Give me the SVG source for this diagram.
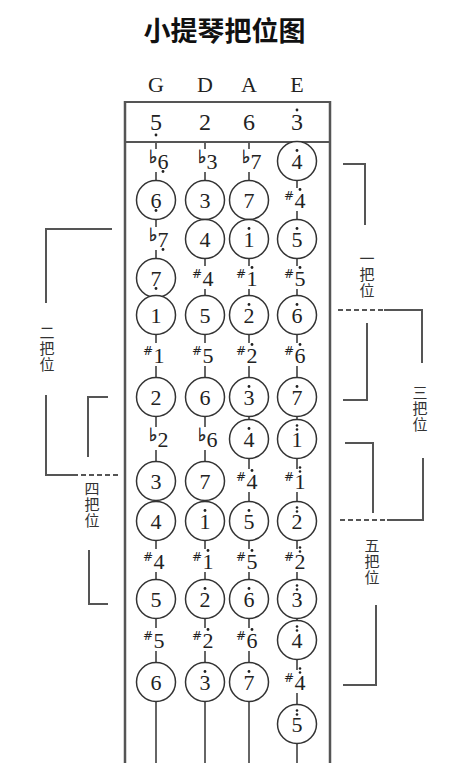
<svg xmlns="http://www.w3.org/2000/svg" width="476" height="780" viewBox="0 0 476 780">
<style>
.c{fill:#fff;stroke:#333;stroke-width:1.5}
.n{font-family:"Liberation Serif",serif;font-size:22px;text-anchor:middle;fill:#222}
.h{font-family:"Liberation Serif",serif;font-size:24px;text-anchor:middle;fill:#222}
.a{font-family:"DejaVu Serif",serif;font-size:18px;text-anchor:end;fill:#222;stroke:#222;stroke-width:0.5}
.s{font-family:"DejaVu Sans",sans-serif;font-size:12px;text-anchor:end;fill:#222}
.d{fill:#222}
.bg{fill:#fff}
.br{fill:none;stroke:#555;stroke-width:2}
.dash{stroke-dasharray:5 3}
.lab{font-family:"Noto Sans CJK SC",sans-serif;font-size:15px;text-anchor:middle;fill:#333;writing-mode:vertical-rl;letter-spacing:1px}
</style>
<rect width="476" height="780" fill="#fff"/>
<text x="224.5" y="41" font-family="'Noto Sans CJK SC',sans-serif" font-size="27" font-weight="bold" text-anchor="middle" fill="#111">小提琴把位图</text>
<g id="stringnames" font-family="'Liberation Serif',serif" font-size="22" text-anchor="middle" fill="#222">
<text x="156" y="92">G</text><text x="205" y="92">D</text><text x="249" y="92">A</text><text x="297" y="92">E</text>
</g>
<g id="frame" stroke="#555" fill="none">
<line x1="125" y1="101" x2="125" y2="763" stroke-width="2.5"/>
<line x1="330" y1="101" x2="330" y2="763" stroke-width="2.5"/>
<line x1="124" y1="102" x2="331" y2="102" stroke-width="2"/>
<line x1="124" y1="142" x2="331" y2="142" stroke-width="2"/>
</g>
<g id="open-strings">
<text class="h" x="156" y="130">5</text><circle class="d" cx="156" cy="135" r="1.4"/>
<text class="h" x="205" y="130">2</text>
<text class="h" x="249" y="130">6</text>
<text class="h" x="297" y="130">3</text><circle class="d" cx="297" cy="110" r="1.4"/>
</g>
<g id="connectors" stroke="#333" stroke-width="1.5">
<line x1="156" y1="143" x2="156" y2="763"/>
<line x1="205" y1="143" x2="205" y2="763"/>
<line x1="249" y1="143" x2="249" y2="763"/>
<line x1="297" y1="143" x2="297" y2="763"/>
</g>
<g id="col-G">
<g id="G0"><rect class="bg" x="151" y="149" width="10" height="23"/><text class="n" x="163" y="168.5">6</text><text class="a" x="157.5" y="163">♭</text><circle class="d" cx="163" cy="171.5" r="1.4"/></g>
<g id="G1"><circle class="c" cx="156" cy="200" r="19.5"/><text class="n" x="156" y="207.5">6</text><circle class="d" cx="156" cy="210.5" r="1.4"/></g>
<g id="G2"><rect class="bg" x="151" y="227" width="10" height="23"/><text class="n" x="163" y="246.5">7</text><text class="a" x="157.5" y="241">♭</text><circle class="d" cx="163" cy="249.5" r="1.4"/></g>
<g id="G3"><circle class="c" cx="156" cy="278" r="19.5"/><text class="n" x="156" y="285.5">7</text><circle class="d" cx="156" cy="288.5" r="1.4"/></g>
<g id="G4"><circle class="c" cx="156" cy="315" r="19.5"/><text class="n" x="156" y="322.5">1</text></g>
<g id="G5"><rect class="bg" x="151" y="343" width="10" height="23"/><text class="n" x="159" y="362.5">1</text><text class="s" x="153" y="355">#</text></g>
<g id="G6"><circle class="c" cx="156" cy="397" r="19.5"/><text class="n" x="156" y="404.5">2</text></g>
<g id="G7"><rect class="bg" x="151" y="427" width="10" height="23"/><text class="n" x="163" y="446.5">2</text><text class="a" x="157.5" y="441">♭</text></g>
<g id="G8"><circle class="c" cx="156" cy="481" r="19.5"/><text class="n" x="156" y="488.5">3</text></g>
<g id="G9"><circle class="c" cx="156" cy="521" r="19.5"/><text class="n" x="156" y="528.5">4</text></g>
<g id="G10"><rect class="bg" x="151" y="549" width="10" height="23"/><text class="n" x="159" y="568.5">4</text><text class="s" x="153" y="561">#</text></g>
<g id="G11"><circle class="c" cx="156" cy="599" r="19.5"/><text class="n" x="156" y="606.5">5</text></g>
<g id="G12"><rect class="bg" x="151" y="628" width="10" height="23"/><text class="n" x="159" y="647.5">5</text><text class="s" x="153" y="640">#</text></g>
<g id="G13"><circle class="c" cx="156" cy="682" r="19.5"/><text class="n" x="156" y="689.5">6</text></g>
</g>
<g id="col-D">
<g id="D0"><rect class="bg" x="200" y="149" width="10" height="23"/><text class="n" x="212" y="168.5">3</text><text class="a" x="206.5" y="163">♭</text></g>
<g id="D1"><circle class="c" cx="205" cy="200" r="19.5"/><text class="n" x="205" y="207.5">3</text></g>
<g id="D2"><circle class="c" cx="205" cy="239" r="19.5"/><text class="n" x="205" y="246.5">4</text></g>
<g id="D3"><rect class="bg" x="200" y="266" width="10" height="23"/><text class="n" x="208" y="285.5">4</text><text class="s" x="202" y="278">#</text></g>
<g id="D4"><circle class="c" cx="205" cy="315" r="19.5"/><text class="n" x="205" y="322.5">5</text></g>
<g id="D5"><rect class="bg" x="200" y="343" width="10" height="23"/><text class="n" x="208" y="362.5">5</text><text class="s" x="202" y="355">#</text></g>
<g id="D6"><circle class="c" cx="205" cy="397" r="19.5"/><text class="n" x="205" y="404.5">6</text></g>
<g id="D7"><rect class="bg" x="200" y="427" width="10" height="23"/><text class="n" x="212" y="446.5">6</text><text class="a" x="206.5" y="441">♭</text></g>
<g id="D8"><circle class="c" cx="205" cy="481" r="19.5"/><text class="n" x="205" y="488.5">7</text></g>
<g id="D9"><circle class="c" cx="205" cy="521" r="19.5"/><text class="n" x="205" y="528.5">1</text><circle class="d" cx="205" cy="510.5" r="1.4"/></g>
<g id="D10"><rect class="bg" x="200" y="549" width="10" height="23"/><text class="n" x="208" y="568.5">1</text><text class="s" x="202" y="561">#</text><circle class="d" cx="208" cy="550.5" r="1.4"/></g>
<g id="D11"><circle class="c" cx="205" cy="599" r="19.5"/><text class="n" x="205" y="606.5">2</text><circle class="d" cx="205" cy="588.5" r="1.4"/></g>
<g id="D12"><rect class="bg" x="200" y="628" width="10" height="23"/><text class="n" x="208" y="647.5">2</text><text class="s" x="202" y="640">#</text><circle class="d" cx="208" cy="629.5" r="1.4"/></g>
<g id="D13"><circle class="c" cx="205" cy="682" r="19.5"/><text class="n" x="205" y="689.5">3</text><circle class="d" cx="205" cy="671.5" r="1.4"/></g>
</g>
<g id="col-A">
<g id="A0"><rect class="bg" x="244" y="149" width="10" height="23"/><text class="n" x="256" y="168.5">7</text><text class="a" x="250.5" y="163">♭</text></g>
<g id="A1"><circle class="c" cx="249" cy="200" r="19.5"/><text class="n" x="249" y="207.5">7</text></g>
<g id="A2"><circle class="c" cx="249" cy="239" r="19.5"/><text class="n" x="249" y="246.5">1</text><circle class="d" cx="249" cy="228.5" r="1.4"/></g>
<g id="A3"><rect class="bg" x="244" y="266" width="10" height="23"/><text class="n" x="252" y="285.5">1</text><text class="s" x="246" y="278">#</text><circle class="d" cx="252" cy="267.5" r="1.4"/></g>
<g id="A4"><circle class="c" cx="249" cy="315" r="19.5"/><text class="n" x="249" y="322.5">2</text><circle class="d" cx="249" cy="304.5" r="1.4"/></g>
<g id="A5"><rect class="bg" x="244" y="343" width="10" height="23"/><text class="n" x="252" y="362.5">2</text><text class="s" x="246" y="355">#</text><circle class="d" cx="252" cy="344.5" r="1.4"/></g>
<g id="A6"><circle class="c" cx="249" cy="397" r="19.5"/><text class="n" x="249" y="404.5">3</text><circle class="d" cx="249" cy="386.5" r="1.4"/></g>
<g id="A7"><circle class="c" cx="249" cy="439" r="19.5"/><text class="n" x="249" y="446.5">4</text><circle class="d" cx="249" cy="428.5" r="1.4"/></g>
<g id="A8"><rect class="bg" x="244" y="469" width="10" height="23"/><text class="n" x="252" y="488.5">4</text><text class="s" x="246" y="481">#</text><circle class="d" cx="252" cy="470.5" r="1.4"/></g>
<g id="A9"><circle class="c" cx="249" cy="521" r="19.5"/><text class="n" x="249" y="528.5">5</text><circle class="d" cx="249" cy="510.5" r="1.4"/></g>
<g id="A10"><rect class="bg" x="244" y="549" width="10" height="23"/><text class="n" x="252" y="568.5">5</text><text class="s" x="246" y="561">#</text><circle class="d" cx="252" cy="550.5" r="1.4"/></g>
<g id="A11"><circle class="c" cx="249" cy="599" r="19.5"/><text class="n" x="249" y="606.5">6</text><circle class="d" cx="249" cy="588.5" r="1.4"/></g>
<g id="A12"><rect class="bg" x="244" y="628" width="10" height="23"/><text class="n" x="252" y="647.5">6</text><text class="s" x="246" y="640">#</text><circle class="d" cx="252" cy="629.5" r="1.4"/></g>
<g id="A13"><circle class="c" cx="249" cy="682" r="19.5"/><text class="n" x="249" y="689.5">7</text><circle class="d" cx="249" cy="671.5" r="1.4"/></g>
</g>
<g id="col-E">
<g id="E0"><circle class="c" cx="297" cy="161" r="19.5"/><text class="n" x="297" y="168.5">4</text><circle class="d" cx="297" cy="150.5" r="1.4"/></g>
<g id="E1"><rect class="bg" x="292" y="188" width="10" height="23"/><text class="n" x="300" y="207.5">4</text><text class="s" x="294" y="200">#</text><circle class="d" cx="300" cy="189.5" r="1.4"/></g>
<g id="E2"><circle class="c" cx="297" cy="239" r="19.5"/><text class="n" x="297" y="246.5">5</text><circle class="d" cx="297" cy="228.5" r="1.4"/></g>
<g id="E3"><rect class="bg" x="292" y="266" width="10" height="23"/><text class="n" x="300" y="285.5">5</text><text class="s" x="294" y="278">#</text><circle class="d" cx="300" cy="267.5" r="1.4"/></g>
<g id="E4"><circle class="c" cx="297" cy="315" r="19.5"/><text class="n" x="297" y="322.5">6</text><circle class="d" cx="297" cy="304.5" r="1.4"/></g>
<g id="E5"><rect class="bg" x="292" y="343" width="10" height="23"/><text class="n" x="300" y="362.5">6</text><text class="s" x="294" y="355">#</text><circle class="d" cx="300" cy="344.5" r="1.4"/></g>
<g id="E6"><circle class="c" cx="297" cy="397" r="19.5"/><text class="n" x="297" y="404.5">7</text><circle class="d" cx="297" cy="386.5" r="1.4"/></g>
<g id="E7"><circle class="c" cx="297" cy="439" r="19.5"/><text class="n" x="297" y="447">1</text><circle class="d" cx="297" cy="429.5" r="1.3"/><circle class="d" cx="297" cy="425.5" r="1.3"/></g>
<g id="E8"><rect class="bg" x="292" y="469" width="10" height="23"/><text class="n" x="300" y="489">1</text><text class="s" x="294" y="481">#</text><circle class="d" cx="300" cy="471.5" r="1.3"/><circle class="d" cx="300" cy="467.5" r="1.3"/></g>
<g id="E9"><circle class="c" cx="297" cy="521" r="19.5"/><text class="n" x="297" y="529">2</text><circle class="d" cx="297" cy="511.5" r="1.3"/><circle class="d" cx="297" cy="507.5" r="1.3"/></g>
<g id="E10"><rect class="bg" x="292" y="549" width="10" height="23"/><text class="n" x="300" y="569">2</text><text class="s" x="294" y="561">#</text><circle class="d" cx="300" cy="551.5" r="1.3"/><circle class="d" cx="300" cy="547.5" r="1.3"/></g>
<g id="E11"><circle class="c" cx="297" cy="599" r="19.5"/><text class="n" x="297" y="607">3</text><circle class="d" cx="297" cy="589.5" r="1.3"/><circle class="d" cx="297" cy="585.5" r="1.3"/></g>
<g id="E12"><circle class="c" cx="297" cy="640" r="19.5"/><text class="n" x="297" y="648">4</text><circle class="d" cx="297" cy="630.5" r="1.3"/><circle class="d" cx="297" cy="626.5" r="1.3"/></g>
<g id="E13"><rect class="bg" x="292" y="670" width="10" height="23"/><text class="n" x="300" y="690">4</text><text class="s" x="294" y="682">#</text><circle class="d" cx="300" cy="672.5" r="1.3"/><circle class="d" cx="300" cy="668.5" r="1.3"/></g>
<g id="E14"><circle class="c" cx="297" cy="724" r="19.5"/><text class="n" x="297" y="732">5</text><circle class="d" cx="297" cy="714.5" r="1.3"/><circle class="d" cx="297" cy="710.5" r="1.3"/></g>
</g>
<g id="positions">
<g id="pos2">
<path class="br" d="M112,229 H46 V303"/>
<path class="br" d="M46,395 V475 H78"/>
<path class="br dash" d="M81,475 H119"/>
<text class="lab" x="47" y="349">二把位</text>
</g>
<g id="pos4">
<path class="br" d="M108,397 H88 V457"/>
<path class="br" d="M89,550 V604 H108"/>
<text class="lab" x="92" y="505">四把位</text>
</g>
<g id="pos1">
<path class="br" d="M343,164 H365 V225"/>
<path class="br" d="M367,323 V400 H343"/>
<text class="lab" x="367" y="275">一把位</text>
</g>
<g id="pos3">
<path class="br dash" d="M338,310 H383"/>
<path class="br" d="M384,310 H422 V363"/>
<path class="br" d="M423,458 V520 H387"/>
<path class="br dash" d="M385,520 H338"/>
<text class="lab" x="420" y="409">三把位</text>
</g>
<g id="pos5">
<path class="br" d="M345,443 H373 V513"/>
<path class="br" d="M376,605 V685 H343"/>
<text class="lab" x="372" y="562">五把位</text>
</g>
</g>
</svg>
